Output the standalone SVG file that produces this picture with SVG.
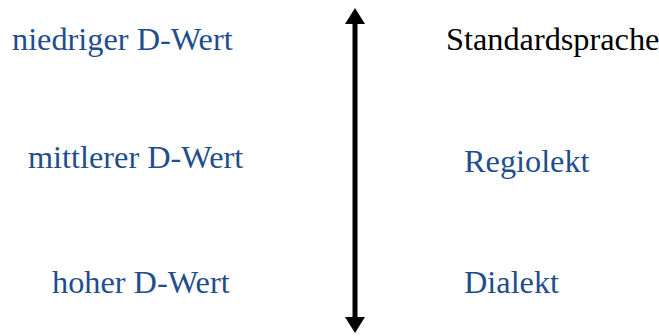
<svg xmlns="http://www.w3.org/2000/svg" width="659" height="336" viewBox="0 0 659 336">
<style>
text{font-family:"Liberation Serif","Times New Roman",serif;font-size:32.3px}
.b{fill:#1f4e8c}
.k{fill:#000}
</style>
<defs>
<marker id="ah" markerWidth="3.2" markerHeight="4" refX="0" refY="2" orient="auto-start-reverse" markerUnits="strokeWidth">
<path d="M0,0 L3.2,2 L0,4 Z" fill="#000"/>
</marker>
</defs>
<rect width="659" height="336" fill="#fff"/>
<g id="connectors">
<line x1="355" y1="24" x2="355" y2="317" stroke="#000" stroke-width="5" marker-start="url(#ah)" marker-end="url(#ah)"/>
</g>
<g id="n1"><text class="b" x="12" y="50">niedriger D-Wert</text></g>
<g id="n2"><text class="b" x="28" y="168">mittlerer D-Wert</text></g>
<g id="n3"><text class="b" x="52" y="293">hoher D-Wert</text></g>
<g id="n4"><text class="k" x="446" y="50">Standardsprache</text></g>
<g id="n5"><text class="b" x="464" y="172">Regiolekt</text></g>
<g id="n6"><text class="b" x="464" y="293">Dialekt</text></g>
</svg>
